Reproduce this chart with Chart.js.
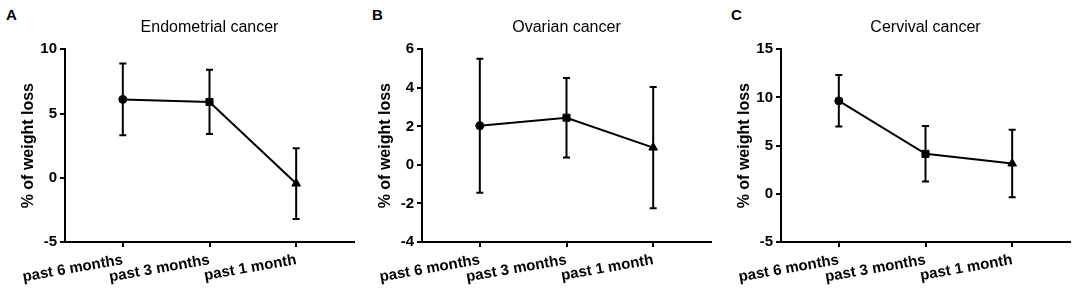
<!DOCTYPE html>
<html>
<head>
<meta charset="utf-8">
<script src="https://cdn.jsdelivr.net/npm/chart.js@4.4.1/dist/chart.umd.min.js"></script>
<style>
  html, body { margin: 0; padding: 0; background: #fff; }
  body { width: 1084px; height: 304px; position: relative; overflow: hidden; font-family: 'Liberation Sans', Arial, sans-serif; }
  .panel { position: absolute; top: 0; width: 361px; height: 304px; }
  .letter { position: absolute; top: 6px; font-weight: bold; font-size: 15px; line-height: 17px; color: #000; }
</style>
</head>
<body>
<div class="letter" style="left:6px">A</div>
<div class="letter" style="left:372px">B</div>
<div class="letter" style="left:731px">C</div>
<div class="panel" style="left:0px"><canvas id="cA" width="361" height="304"></canvas></div>
<div class="panel" style="left:357px"><canvas id="cB" width="361" height="304"></canvas></div>
<div class="panel" style="left:716px"><canvas id="cC" width="361" height="304"></canvas></div>
<script>
// ---- data ----
const categories = ['past 6 months', 'past 3 months', 'past 1 month'];
const pointShapes = ['circle', 'rect', 'triangle'];

const endometrialTitle = 'Endometrial cancer';
const endometrialMean = [6.1, 5.9, -0.45];
const endometrialErr  = [2.8, 2.5, 2.75];
const endometrialTicks = [-5, 0, 5, 10];

const ovarianTitle = 'Ovarian cancer';
const ovarianMean = [2.03, 2.45, 0.9];
const ovarianErr  = [3.48, 2.06, 3.15];
const ovarianTicks = [-4, -2, 0, 2, 4, 6];

const cervicalTitle = 'Cervival cancer';
const cervicalMean = [9.65, 4.15, 3.15];
const cervicalErr  = [2.67, 2.88, 3.5];
const cervicalTicks = [-5, 0, 5, 10, 15];

const yAxisTitle = '% of weight loss';

// ---- error bar plugin ----
const errorBarPlugin = {
  id: 'errorBars',
  beforeDatasetsDraw(chart) {
    const ctx = chart.ctx;
    const xs = chart.scales.x, ys = chart.scales.y;
    chart.data.datasets.forEach(ds => {
      const errs = ds.errors || [];
      ds.data.forEach((p, i) => {
        const e = errs[i];
        if (e == null) return;
        const x = xs.getPixelForValue(p.x);
        const yt = ys.getPixelForValue(p.y + e);
        const yb = ys.getPixelForValue(p.y - e);
        const cap = 3.5;
        ctx.save();
        ctx.strokeStyle = '#000';
        ctx.lineWidth = 2;
        ctx.beginPath();
        ctx.moveTo(x, yt); ctx.lineTo(x, yb);
        ctx.moveTo(x - cap, yt); ctx.lineTo(x + cap, yt);
        ctx.moveTo(x - cap, yb); ctx.lineTo(x + cap, yb);
        ctx.stroke();
        ctx.restore();
      });
    });
  }
};

function makeChart(id, title, means, errs, ticks) {
  const pts = means.map((m, i) => ({ x: i, y: m }));
  return new Chart(document.getElementById(id), {
    type: 'line',
    data: {
      datasets: [{
        data: pts,
        errors: errs,
        borderColor: '#000',
        borderWidth: 2,
        backgroundColor: '#000',
        pointStyle: pointShapes,
        pointRadius: [4, 5, 5],
        pointBackgroundColor: '#000',
        pointBorderColor: '#000',
        pointBorderWidth: 1,
        tension: 0,
        fill: false
      }]
    },
    options: {
      responsive: false,
      animation: false,
      events: [],
      layout: { padding: { left: 0, right: 7, top: 0, bottom: 0 } },
      plugins: {
        legend: { display: false },
        tooltip: { enabled: false },
        title: {
          display: true,
          text: title,
          fullSize: false,
          color: '#000',
          font: { family: "'Liberation Sans', Arial, sans-serif", size: 16, weight: 'normal' },
          padding: { top: 18.4, bottom: 11.7 }
        }
      },
      scales: {
        x: {
          type: 'linear',
          min: -0.667,
          max: 2.667,
          afterBuildTicks: s => { s.ticks = categories.map((c, i) => ({ value: i })); },
          afterFit: s => { s.height = 62; },
          ticks: {
            color: '#000',
            font: { family: "'Liberation Sans', Arial, sans-serif", size: 15, weight: 'bold' },
            minRotation: 10,
            maxRotation: 10,
            padding: 4,
            autoSkip: false,
            callback: v => categories[v]
          },
          grid: { drawOnChartArea: false, drawTicks: true, tickLength: 5, color: '#000', lineWidth: 2 },
          border: { display: true, color: '#000', width: 2 }
        },
        y: {
          min: ticks[0],
          max: ticks[ticks.length - 1],
          afterBuildTicks: s => { s.ticks = ticks.map(v => ({ value: v })); },
          afterFit: s => { s.width = 65; },
          ticks: {
            color: '#000',
            font: { family: "'Liberation Sans', Arial, sans-serif", size: 15, weight: 'bold' },
            padding: 3
          },
          grid: { drawOnChartArea: false, drawTicks: true, tickLength: 5, color: '#000', lineWidth: 2 },
          border: { display: true, color: '#000', width: 2 },
          title: {
            display: true,
            text: yAxisTitle,
            color: '#000',
            font: { family: "'Liberation Sans', Arial, sans-serif", size: 16, weight: 'bold' },
            padding: { top: 19, bottom: 0 }
          }
        }
      }
    },
    plugins: [errorBarPlugin]
  });
}

makeChart('cA', endometrialTitle, endometrialMean, endometrialErr, endometrialTicks);
makeChart('cB', ovarianTitle, ovarianMean, ovarianErr, ovarianTicks);
makeChart('cC', cervicalTitle, cervicalMean, cervicalErr, cervicalTicks);
</script>
</body>
</html>
